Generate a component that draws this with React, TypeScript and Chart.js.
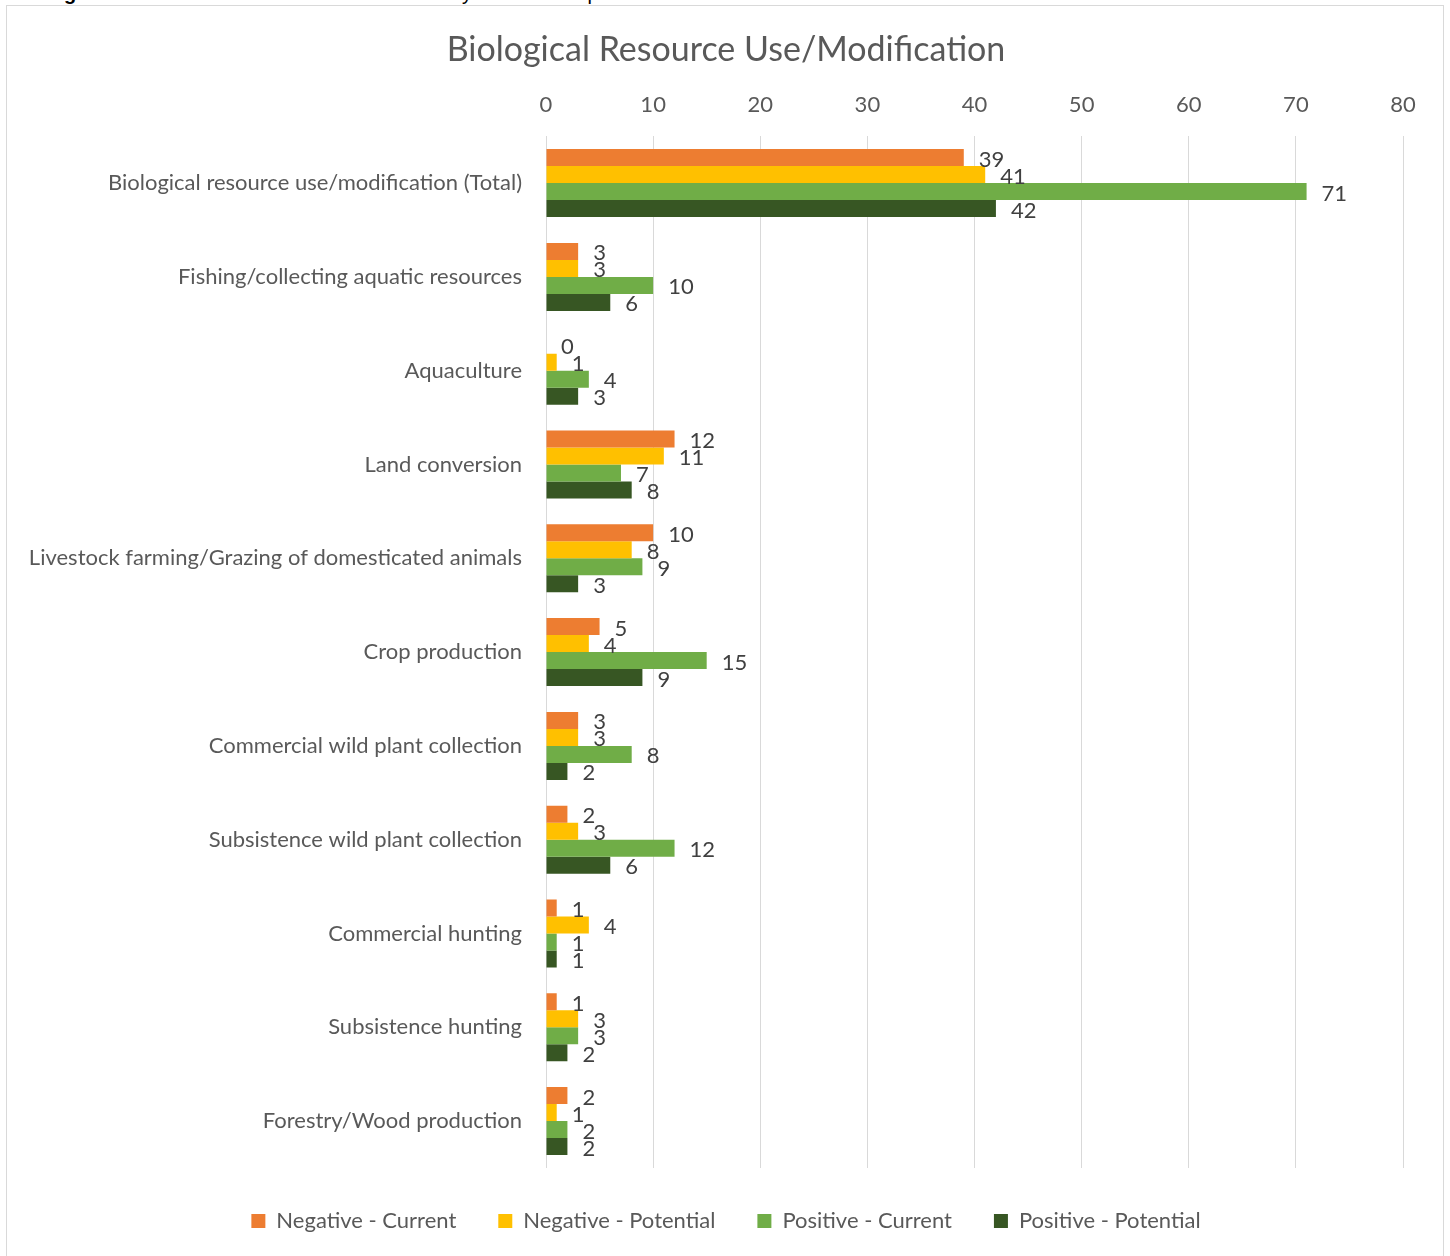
import React, { useEffect, useRef } from "react";
import { Chart, registerables } from "chart.js";

Chart.register(...registerables);

const categories = [
  "Biological resource use/modification (Total)",
  "Fishing/collecting aquatic resources",
  "Aquaculture",
  "Land conversion",
  "Livestock farming/Grazing of domesticated animals",
  "Crop production",
  "Commercial wild plant collection",
  "Subsistence wild plant collection",
  "Commercial hunting",
  "Subsistence hunting",
  "Forestry/Wood production",
];

const seriesNames = [
  "Negative - Current",
  "Negative - Potential",
  "Positive - Current",
  "Positive - Potential",
];

const negativeCurrent = [39, 3, 0, 12, 10, 5, 3, 2, 1, 1, 2];
const negativePotential = [41, 3, 1, 11, 8, 4, 3, 3, 4, 3, 1];
const positiveCurrent = [71, 10, 4, 7, 9, 15, 8, 12, 1, 3, 2];
const positivePotential = [42, 6, 3, 8, 3, 9, 2, 6, 1, 2, 2];

const seriesColors = ["#ED7D31", "#FFC000", "#70AD47", "#375623"];

const xTicks = [0, 10, 20, 30, 40, 50, 60, 70, 80];

const titleText = "Biological Resource Use/Modification";
const captionText = "Biological Resource Use/Modification – Secondary Nature of Impact";

const FONT = "Lato, 'Open Sans', sans-serif";

const dataLabelPlugin = {
  id: "dataLabels",
  afterDatasetsDraw(chart: any) {
    const ctx = chart.ctx;
    ctx.save();
    ctx.font = `22px ${FONT}`;
    ctx.fillStyle = "#404040";
    ctx.textAlign = "left";
    ctx.textBaseline = "middle";
    chart.data.datasets.forEach((ds: any, di: number) => {
      const meta = chart.getDatasetMeta(di);
      meta.data.forEach((bar: any, i: number) => {
        const v = ds.data[i];
        ctx.fillText(String(v), bar.x + 15, bar.y + 2);
      });
    });
    ctx.restore();
  },
};

function App() {
  const canvasRef = useRef<HTMLCanvasElement | null>(null);

  useEffect(() => {
    if (!canvasRef.current) return;
    const values = [negativeCurrent, negativePotential, positiveCurrent, positivePotential];
    const chart = new Chart(canvasRef.current, {
      type: "bar",
      data: {
        labels: categories,
        datasets: seriesNames.map((name, i) => ({
          label: name,
          data: values[i],
          backgroundColor: seriesColors[i],
          borderWidth: 0,
          categoryPercentage: 0.725,
          barPercentage: 1.0,
        })),
      },
      options: {
        indexAxis: "y",
        animation: false,
        responsive: false,
        maintainAspectRatio: false,
        layout: { padding: { left: 0, right: 0, top: 0, bottom: 14 } },
        plugins: {
          title: {
            display: true,
            text: titleText,
            color: "#595959",
            font: { family: FONT, size: 34, weight: "normal" },
            padding: { top: 24, bottom: 3 },
          },
          legend: {
            display: true,
            position: "bottom",
            labels: {
              color: "#595959",
              font: { family: FONT, size: 22 },
              boxWidth: 14,
              boxHeight: 14,
              padding: 42,
            },
          },
          tooltip: { enabled: false },
        },
        scales: {
          x: {
            position: "top",
            min: 0,
            max: 80,
            afterBuildTicks(scale: any) {
              scale.ticks = xTicks.map((v) => ({ value: v }));
            },
            ticks: {
              color: "#595959",
              font: { family: FONT, size: 22 },
              padding: 18,
            },
            grid: { color: "#d9d9d9", lineWidth: 1, drawTicks: false },
            border: { display: false },
          },
          y: {
            afterFit(scale: any) {
              scale.width = 538;
            },
            ticks: {
              color: "#595959",
              font: { family: FONT, size: 22 },
              padding: 24,
            },
            grid: { display: false, drawTicks: false },
            border: { display: false },
          },
          rightMargin: {
            type: "linear",
            axis: "y",
            position: "right",
            display: true,
            afterFit(scale: any) {
              scale.width = 41;
            },
            ticks: { display: false },
            grid: { display: false, drawTicks: false },
            border: { display: false },
          },
        },
      },
      plugins: [dataLabelPlugin],
    } as any);
    return () => chart.destroy();
  }, []);

  return (
    <div style={{ position: "absolute", left: 0, top: 0, width: 1450, height: 1256, overflow: "hidden", background: "#fff" }}>
      <div
        style={{
          position: "absolute",
          left: 0,
          top: -19,
          height: 24,
          whiteSpace: "nowrap",
          font: `20px 'Liberation Sans', Arial, sans-serif`,
          color: "#000",
          lineHeight: "24px",
          paddingLeft: 14,
        }}
      >
        <b>{captionText.split(" ")[0]}</b> {captionText.split(" ").slice(1).join(" ")}
      </div>
      <div
        style={{
          position: "absolute",
          left: 6,
          top: 5,
          width: 1438,
          height: 1300,
          border: "1px solid #d9d9d9",
          boxSizing: "border-box",
        }}
      />
      <canvas
        ref={canvasRef}
        width={1436}
        height={1250}
        style={{ position: "absolute", left: 8, top: 6, width: 1436, height: 1250 }}
      />
    </div>
  );
}

export default App;
